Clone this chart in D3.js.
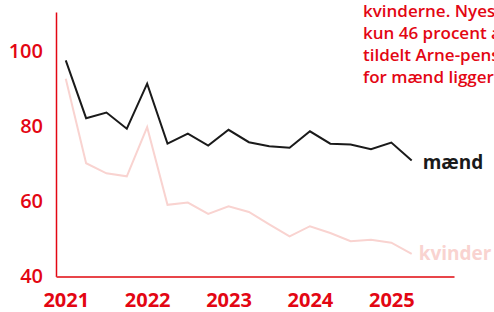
<!DOCTYPE html>
<html>
<head>
<meta charset="utf-8">
<script src="https://cdn.jsdelivr.net/npm/d3@7"></script>
<style>
  html, body { margin: 0; padding: 0; background: #fff; overflow: hidden; }
  svg { display: block; font-family: "Open Sans", sans-serif; }
</style>
</head>
<body>
<div id="chart"></div>
<script>
// kvartalsvise tal, 2021 K1 - 2025 K2
const quarters = d3.range(18).map(i => 2021 + i * 0.25);
const maend = [97.6, 82.2, 83.7, 79.4, 91.4, 75.4, 78.1, 74.9, 79.1, 75.8, 74.7, 74.3, 78.7, 75.4, 75.2, 73.9, 75.7, 70.9];
const kvinder = [92.7, 70.2, 67.5, 66.7, 79.8, 59.1, 59.7, 56.7, 58.7, 57.2, 53.9, 50.7, 53.4, 51.6, 49.4, 49.8, 49.0, 46.0];
const yearTicks = [2021, 2022, 2023, 2024, 2025];
const valueTicks = [40, 60, 80, 100];
const noteLines = ["kvinderne. Nyeste", "kun 46 procent af", "tildelt Arne-pension", "for mænd ligger"];

const width = 494, height = 312;
const red = "#e30613";

const svg = d3.select("#chart").append("svg")
    .attr("width", width)
    .attr("height", height);

const x = d3.scaleLinear().domain([2020.88, 2025.77]).range([56, 454]);
const y = d3.scaleLinear().domain([40, 110.5]).range([276.5, 12]);

// y-akse
const yAxis = svg.append("g")
    .attr("transform", "translate(56,0)")
    .call(d3.axisLeft(y).tickValues(valueTicks).tickSize(0).tickPadding(13).tickSizeOuter(0));
yAxis.select(".domain").attr("stroke", red).attr("stroke-width", 1.5);
yAxis.selectAll("text")
    .attr("fill", red)
    .attr("font-size", 20)
    .attr("font-weight", 600)
    .attr("font-family", "Open Sans");

// x-akse
const xAxis = svg.append("g")
    .attr("transform", "translate(0,276.5)")
    .call(d3.axisBottom(x).tickValues(yearTicks).tickFormat(d3.format("d")).tickSize(0).tickPadding(16).tickSizeOuter(0));
xAxis.select(".domain").attr("stroke", "#e8454a").attr("stroke-width", 2);
xAxis.selectAll("text")
    .attr("fill", red)
    .attr("font-size", 20)
    .attr("font-weight", 700)
    .attr("font-family", "Open Sans");

const line = d3.line()
    .x((d, i) => x(quarters[i]))
    .y(d => y(d));

svg.append("path").datum(kvinder)
    .attr("fill", "none")
    .attr("stroke", "#f9d3d0")
    .attr("stroke-width", 2)
    .attr("d", line);

svg.append("path").datum(maend)
    .attr("fill", "none")
    .attr("stroke", "#1a1a1a")
    .attr("stroke-width", 2)
    .attr("d", line);

const last = quarters.length - 1;
svg.append("text")
    .attr("x", x(quarters[last]) + 11)
    .attr("y", y(maend[last]) + 8)
    .attr("fill", "#1a1a1a")
    .attr("font-size", 19)
    .attr("font-weight", 700)
    .text("mænd");

svg.append("text")
    .attr("x", x(quarters[last]) + 7)
    .attr("y", y(kvinder[last]) + 6)
    .attr("fill", "#f9d3d0")
    .attr("font-size", 19)
    .attr("font-weight", 700)
    .text("kvinder");

// tekst oppe til højre, skåret af ved kanten
svg.append("g").selectAll("text")
    .data(noteLines)
    .join("text")
    .attr("x", 363)
    .attr("y", (d, i) => 16.5 + i * 22.3)
    .attr("fill", red)
    .attr("font-size", 17)
    .attr("font-weight", 600)
    .text(d => d);
</script>
</body>
</html>
